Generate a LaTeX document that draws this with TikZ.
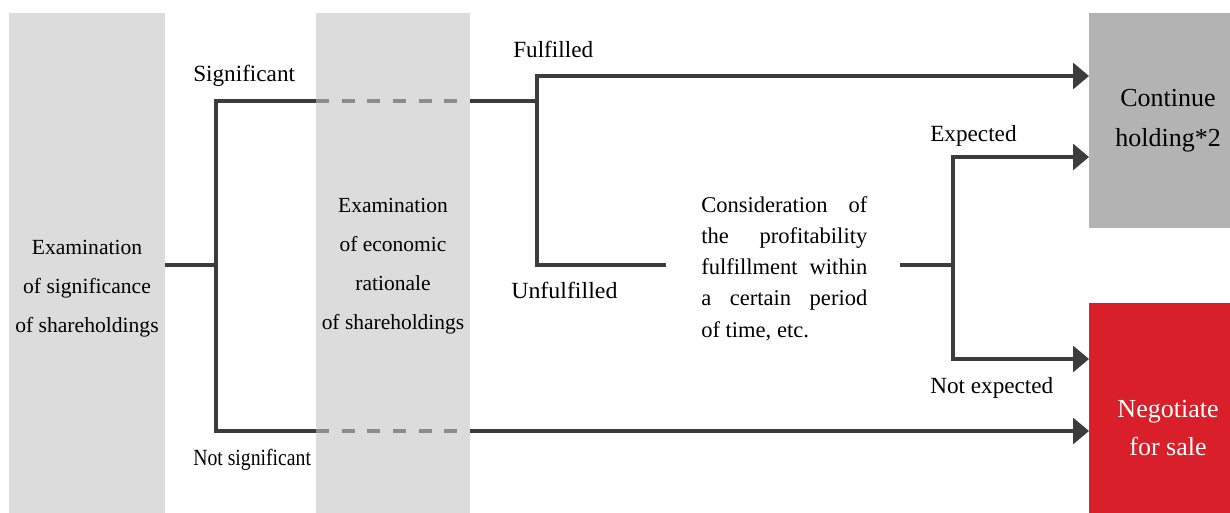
\documentclass[tikz,border=0pt]{standalone}
\usepackage{fontspec}
\setmainfont{Liberation Serif}
\usetikzlibrary{arrows.meta}
\definecolor{colgray}{HTML}{DCDCDC}
\definecolor{boxgray}{HTML}{B3B3B3}
\definecolor{boxred}{HTML}{D9202A}
\definecolor{linec}{HTML}{3C3C3C}
\definecolor{dashc}{HTML}{8C8C8C}
\begin{document}
\begin{tikzpicture}[x=0.75pt,y=-0.75pt,
  panel/.style={inner sep=0, outer sep=0, anchor=north west, draw=none},
  conn/.style={draw=linec, line width=2.4pt, line join=miter},
  dashseg/.style={draw=dashc, line width=2.4pt, dash pattern=on 9.75pt off 9.5pt},
  tipend/.style={-{Triangle[length=12pt,width=19.5pt]}},
  tipboth/.style={{Triangle[length=12pt,width=19.5pt]}-{Triangle[length=12pt,width=19.5pt]}},
  lbl/.style={inner sep=0, anchor=base west, font=\fontsize{17.4pt}{20pt}\selectfont},
  txt/.style={inner sep=0, anchor=base},
  ]
\useasboundingbox (0,0) rectangle (1230,513);
% panels
\node[panel, fill=colgray, minimum width=117pt, minimum height=375pt] (col1) at (9,13) {};
\node[panel, fill=colgray, minimum width=115.5pt, minimum height=375pt] (col2) at (316,13) {};
\node[panel, fill=boxgray, minimum width=105.75pt, minimum height=161.25pt] (cont) at (1089,13) {};
\node[panel, fill=boxred, minimum width=105.75pt, minimum height=157.5pt] (sale) at (1089,303) {};
% texts
\node[txt] (t1) at (87,254) {\parbox[t]{117pt}{\centering\fontsize{16.2pt}{29.25pt}\selectfont Examination\\of significance\\of shareholdings}};
\node[txt] (t2) at (393,213) {\parbox[t]{115.5pt}{\centering\fontsize{16.1pt}{29.25pt}\selectfont Examination\\of economic\\rationale\\of shareholdings}};
\node[inner sep=0, anchor=base west] (t3) at (701,213) {\parbox[t]{124.5pt}{\fontsize{16.9pt}{23.25pt}\selectfont\hbadness=10000 Consideration of\linebreak the profitability\linebreak fulfillment within\linebreak a certain period\linebreak of time, etc.}};
\node[txt] (t4) at (1168,107) {\parbox[t]{105pt}{\centering\fontsize{19.5pt}{30pt}\selectfont Continue\\holding*2}};
\node[txt] (t5) at (1168,400) {\parbox[t]{105pt}{\centering\color{white}\fontsize{19.5pt}{28.5pt}\selectfont Negotiate\\for sale}};
% labels
\node[lbl] (lsig) at (193,82) {Significant};
\node[lbl] (lful) at (513,58) {Fulfilled};
\node[lbl] (lunf) at (511,298) {\scalebox{1.03}[1]{Unfulfilled}};
\node[lbl] (lnsig) at (193,465) {\scalebox{0.85}[1]{Not significant}};
\node[lbl] (lexp) at (930,142) {Expected};
\node[lbl] (lnexp) at (930,393) {Not expected};
% coordinates
\coordinate (j1) at (216,265);
\coordinate (s1) at (216,101);
\coordinate (n1) at (216,431);
\coordinate (j2) at (537,101);
\coordinate (f1) at (537,76);
\coordinate (u1) at (537,265);
\coordinate (u2) at (666,265);
\coordinate (c1) at (900,265);
\coordinate (j3) at (953,265);
\coordinate (e1) at (953,157);
\coordinate (x1) at (953,359);
% connectors
\draw[conn] (col1.east |- j1) -- (j1);
\draw[conn] (col2.west |- s1) -- (s1) -- (n1) -- (col2.west |- n1);
\draw[dashseg] (col2.west |- s1) -- (col2.east |- s1);
\draw[dashseg] (col2.west |- n1) -- (col2.east |- n1);
\draw[conn] (col2.east |- s1) -- (j2);
\draw[conn, tipend] (u2) -- (u1) -- (f1) -- (cont.west |- f1);
\draw[conn] (c1) -- (j3);
\draw[conn, tipboth] (cont.west |- e1) -- (e1) -- (x1) -- (sale.west |- x1);
\draw[conn, tipend] (col2.east |- n1) -- (sale.west |- n1);
\end{tikzpicture}
\end{document}
